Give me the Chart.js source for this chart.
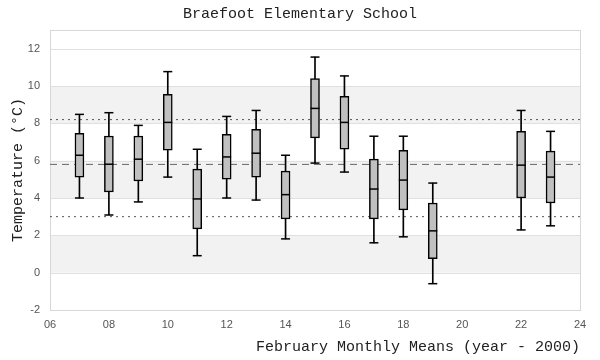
<!DOCTYPE html>
<html>
<head>
<meta charset="utf-8">
<script src="https://cdn.jsdelivr.net/npm/chart.js@4/dist/chart.umd.min.js"></script>
<style>
  html, body { margin: 0; padding: 0; background: #fff; }
  #wrap { width: 600px; height: 360px; }
</style>
</head>
<body>
<div id="wrap"><canvas id="chart"></canvas></div>
<script>
// February monthly means, one box per year (year - 2000)
const years    = [7, 8, 9, 10, 11, 12, 13, 14, 15, 16, 17, 18, 19, 22, 23];
const whiskLow = [4.0, 3.09, 3.79, 5.12, 0.91, 4.0, 3.89, 1.81, 5.87, 5.39, 1.6, 1.92, -0.59, 2.29, 2.51];
const boxLow   = [5.12, 4.32, 4.91, 6.56, 2.35, 5.01, 5.12, 2.88, 7.22, 6.61, 2.88, 3.36, 0.75, 4.0, 3.73];
const medians  = [6.29, 5.81, 6.08, 8.05, 3.95, 6.2, 6.4, 4.18, 8.8, 8.05, 4.48, 4.96, 2.24, 5.76, 5.12];
const boxHigh  = [7.47, 7.32, 7.32, 9.55, 5.55, 7.41, 7.68, 5.44, 10.4, 9.44, 6.08, 6.56, 3.73, 7.57, 6.51];
const whiskHigh= [8.48, 8.57, 7.89, 10.77, 6.61, 8.37, 8.69, 6.29, 11.55, 10.54, 7.31, 7.31, 4.8, 8.69, 7.57];

// reference lines
const overallMean = 5.8;
const upperLine = 8.2;
const lowerLine = 3.0;

// shaded bands on the y axis
const bands = [[0, 2], [4, 6], [8, 10]];

const xMin = 6, xMax = 24;

const pairs = (a, b) => years.map((x, i) => ({ x: x, y: [a[i], b[i]] }));
const points = arr => years.map((x, i) => ({ x: x, y: arr[i] }));
const flat = v => [{ x: xMin, y: v }, { x: xMax, y: v }];

const bandPlugin = {
  id: 'bands',
  beforeDatasetsDraw(chart) {
    const { ctx, chartArea, scales: { y } } = chart;
    ctx.save();
    ctx.fillStyle = '#f2f2f2';
    bands.forEach(b => {
      const top = y.getPixelForValue(b[1]);
      const bot = y.getPixelForValue(b[0]);
      ctx.fillRect(chartArea.left, top, chartArea.right - chartArea.left, bot - top);
    });
    // grid lines on top of the bands
    ctx.strokeStyle = '#e0e0e0';
    ctx.lineWidth = 1;
    y.ticks.forEach(t => {
      const py = Math.round(y.getPixelForValue(t.value)) + 0.5;
      ctx.beginPath();
      ctx.moveTo(chartArea.left, py);
      ctx.lineTo(chartArea.right, py);
      ctx.stroke();
    });
    ctx.strokeStyle = '#d8d8d8';
    ctx.strokeRect(Math.round(chartArea.left) + 0.5, Math.round(chartArea.top) + 0.5,
      Math.round(chartArea.right - chartArea.left), Math.round(chartArea.bottom - chartArea.top));
    ctx.restore();
  }
};

const monoFont = { family: '"Liberation Mono", "DejaVu Sans Mono", monospace', size: 15, weight: 'normal' };
const tickFont = { family: '"Liberation Sans", Arial, sans-serif', size: 11 };

new Chart(document.getElementById('chart'), {
  data: {
    datasets: [
      {
        type: 'line', data: flat(upperLine), borderColor: '#555', borderWidth: 1,
        borderDash: [2, 4], pointRadius: 0, order: 6
      },
      {
        type: 'line', data: flat(lowerLine), borderColor: '#555', borderWidth: 1,
        borderDash: [2, 4], pointRadius: 0, order: 6
      },
      {
        type: 'line', data: flat(overallMean), borderColor: '#666', borderWidth: 1,
        borderDash: [7, 5], pointRadius: 0, order: 6
      },
      {
        type: 'bar', data: pairs(whiskLow, whiskHigh), backgroundColor: '#000',
        barThickness: 1, grouped: false, order: 5
      },
      {
        type: 'bar', data: pairs(boxLow, boxHigh), backgroundColor: '#c0c0c0',
        borderColor: '#000', borderWidth: 1.5, borderSkipped: false,
        barThickness: 9, grouped: false, order: 4
      },
      {
        type: 'scatter', data: points(medians), pointStyle: 'line', pointRadius: 4.5,
        borderColor: '#000', borderWidth: 1.5, order: 1
      },
      {
        type: 'scatter', data: points(whiskLow), pointStyle: 'line', pointRadius: 4.5,
        borderColor: '#000', borderWidth: 1.5, order: 1
      },
      {
        type: 'scatter', data: points(whiskHigh), pointStyle: 'line', pointRadius: 4.5,
        borderColor: '#000', borderWidth: 1.5, order: 1
      }
    ]
  },
  options: {
    responsive: true,
    maintainAspectRatio: false,
    animation: false,
    plugins: {
      legend: { display: false },
      tooltip: { enabled: false },
      title: {
        display: true,
        text: 'Braefoot Elementary School',
        color: '#222',
        font: monoFont,
        padding: { top: 5, bottom: 7 }
      }
    },
    scales: {
      x: {
        type: 'linear',
        min: xMin, max: xMax,
        offset: false,
        grid: { display: false, drawTicks: false },
        border: { display: false },
        ticks: {
          stepSize: 2, color: '#555', font: tickFont, padding: 8,
          callback: v => String(v).padStart(2, '0')
        },
        title: {
          display: true, text: 'February Monthly Means (year - 2000)', align: 'end',
          color: '#222', font: monoFont, padding: { top: 0, bottom: 4 }
        },
        afterFit: s => { s.height = 50; }
      },
      y: {
        min: -2, max: 13,
        grid: { display: false, drawTicks: false },
        border: { display: false },
        ticks: { stepSize: 2, color: '#555', font: tickFont, padding: 10 },
        afterBuildTicks: s => { s.ticks = s.ticks.filter(t => t.value % 2 === 0); },
        title: {
          display: true, text: 'Temperature (°C)', color: '#222', font: monoFont,
          padding: { top: 9, bottom: 0 }
        },
        afterFit: s => { s.width = 50; }
      },
      // empty right axis, only keeps a 20px margin so the title stays centred on the page
      yRight: {
        position: 'right',
        min: -2, max: 13,
        grid: { display: false, drawTicks: false },
        border: { display: false },
        ticks: { display: false },
        afterFit: s => { s.width = 20; }
      }
    }
  },
  plugins: [bandPlugin]
});
</script>
</body>
</html>
